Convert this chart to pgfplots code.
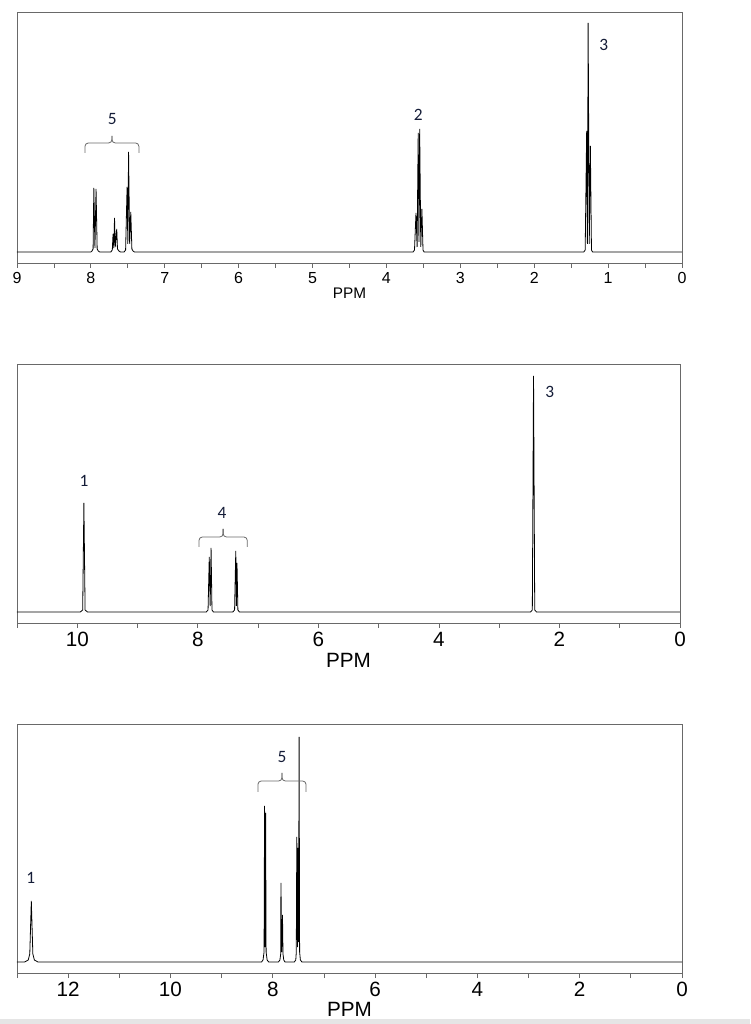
\documentclass[border=0pt]{standalone}
\usepackage{pgfplots}
\pgfplotsset{compat=1.18}
\usepackage{fontspec}
\setmainfont{Liberation Sans}
\newfontfamily\calib{Carlito}
\definecolor{frame}{RGB}{105,105,105}
\definecolor{lbl}{RGB}{20,28,55}
\pgfplotsset{nmr/.style={
  scale only axis, anchor=south west, x dir=reverse, clip=false,
  axis line style={frame, line width=0.6pt},
  ytick=\empty, xtick pos=bottom, tick align=outside,
  major tick length=3.75pt, minor tick length=3.75pt,
  every tick/.style={frame, line width=0.6pt},
  /pgf/number format/assume math mode=true,
  xticklabel style={inner sep=0pt},
  every axis x label/.style={at={(axis description cs:0.5,0)}, anchor=north, inner sep=0pt},
  xlabel=PPM,
}}
\tikzset{spec/.style={black, line width=0.6pt},
  pk/.style={font=\calib\fontsize{13}{14}\selectfont, text=lbl},
  br/.style={frame, line width=0.6pt, rounded corners=2.5pt}}
\begin{document}
\begin{tikzpicture}
\path[use as bounding box] (0,0) rectangle (562.5pt,768pt);
\fill[black!10] (0,0) rectangle (562.5pt,4pt);
% ---------- Panel 1 ----------
\begin{axis}[nmr, at={(12.75pt,570.75pt)}, width=498.75pt, height=188.25pt,
  xmin=0, xmax=9, ymin=-11, ymax=240,
  xtick={0,1,...,9}, minor xtick={0.5,1.5,...,8.5},
  tick label style={font=\fontsize{12}{14}\selectfont},
  xticklabel style={yshift=-3pt},
  label style={font=\fontsize{11.5}{14}\selectfont},
  xlabel style={yshift=-18.5pt}]
\addplot[spec] coordinates {
(9,0) (8.00,0) (7.985,1) (7.97,3) (7.96,64) (7.945,4) (7.93,63) (7.915,3) (7.90,1) (7.88,0)
(7.73,0) (7.71,2) (7.70,18) (7.69,4) (7.68,34) (7.67,5) (7.65,23) (7.64,3) (7.62,1) (7.60,0)
(7.55,0) (7.53,2) (7.51,65) (7.50,8) (7.49,100) (7.475,8) (7.46,40) (7.445,3) (7.43,1) (7.41,0)
(3.64,0) (3.62,2) (3.60,39) (3.585,5) (3.57,119) (3.56,10) (3.55,123) (3.535,5) (3.52,43) (3.505,2) (3.49,0)
(1.33,0) (1.31,2) (1.29,121) (1.28,8) (1.27,229) (1.255,8) (1.24,106) (1.225,2) (1.21,0) (0,0)
};
\node[pk] at (axis cs:7.71,133) {5};
\draw[br] (axis cs:8.08,99) -- (axis cs:8.08,109) -- (axis cs:7.715,109) -- (axis cs:7.715,116);
\draw[br] (axis cs:7.35,99) -- (axis cs:7.35,109) -- (axis cs:7.715,109) -- (axis cs:7.715,116);
\node[pk] at (axis cs:3.57,137) {2};
\node[pk] at (axis cs:1.06,207) {3};
\end{axis}
% ---------- Panel 2 ----------
\begin{axis}[nmr, at={(12.75pt,300.75pt)}, width=497.25pt, height=194.25pt,
  xmin=0, xmax=11, ymin=-11, ymax=248,
  xtick={0,2,...,10}, minor xtick={1,3,...,11},
  tick label style={font=\fontsize{15.5}{18}\selectfont},
  xticklabel style={yshift=-3pt},
  label style={font=\fontsize{15.5}{18}\selectfont},
  xlabel style={yshift=-22.5pt}]
\addplot[spec] coordinates {
(11,0) (9.95,0) (9.91,2) (9.89,109) (9.87,2) (9.83,0)
(7.86,0) (7.83,2) (7.81,55) (7.795,6) (7.78,64) (7.765,2) (7.74,0)
(7.42,0) (7.39,2) (7.37,61) (7.36,6) (7.35,49) (7.335,2) (7.31,0)
(2.48,0) (2.45,2) (2.43,236) (2.41,2) (2.38,0) (0,0)
};
\node[pk] at (axis cs:9.89,131) {1};
\node[pk] at (axis cs:7.60,99) {4};
\draw[br] (axis cs:7.98,65) -- (axis cs:7.98,75) -- (axis cs:7.58,75) -- (axis cs:7.58,83);
\draw[br] (axis cs:7.18,65) -- (axis cs:7.18,75) -- (axis cs:7.58,75) -- (axis cs:7.58,83);
\node[pk] at (axis cs:2.16,220) {3};
\end{axis}
% ---------- Panel 3 ----------
\begin{axis}[nmr, at={(12.75pt,38.25pt)}, width=498.75pt, height=186.75pt,
  xmin=0, xmax=13, ymin=-11, ymax=238,
  xtick={0,2,...,12}, minor xtick={1,3,...,13},
  tick label style={font=\fontsize{15.5}{18}\selectfont},
  xticklabel style={yshift=-3pt},
  label style={font=\fontsize{15.5}{18}\selectfont},
  xlabel style={yshift=-21.75pt}]
\addplot[spec] coordinates {
(13,0) (12.85,0) (12.78,2) (12.75,8) (12.72,61) (12.69,8) (12.66,2) (12.59,0)
(8.22,0) (8.19,2) (8.17,10) (8.16,156) (8.15,15) (8.14,149) (8.13,10) (8.11,2) (8.08,0)
(7.89,0) (7.86,2) (7.845,8) (7.84,79) (7.825,10) (7.81,47) (7.80,8) (7.785,2) (7.76,0)
(7.58,0) (7.55,2) (7.54,10) (7.53,125) (7.515,15) (7.505,114) (7.495,20) (7.485,225) (7.475,10) (7.46,2) (7.43,0) (0,0)
};
\node[pk] at (axis cs:12.73,84) {1};
\node[pk] at (axis cs:7.82,205) {5};
\draw[br] (axis cs:8.29,170) -- (axis cs:8.29,181) -- (axis cs:7.82,181) -- (axis cs:7.82,189);
\draw[br] (axis cs:7.35,170) -- (axis cs:7.35,181) -- (axis cs:7.82,181) -- (axis cs:7.82,189);
\end{axis}
\end{tikzpicture}
\end{document}
